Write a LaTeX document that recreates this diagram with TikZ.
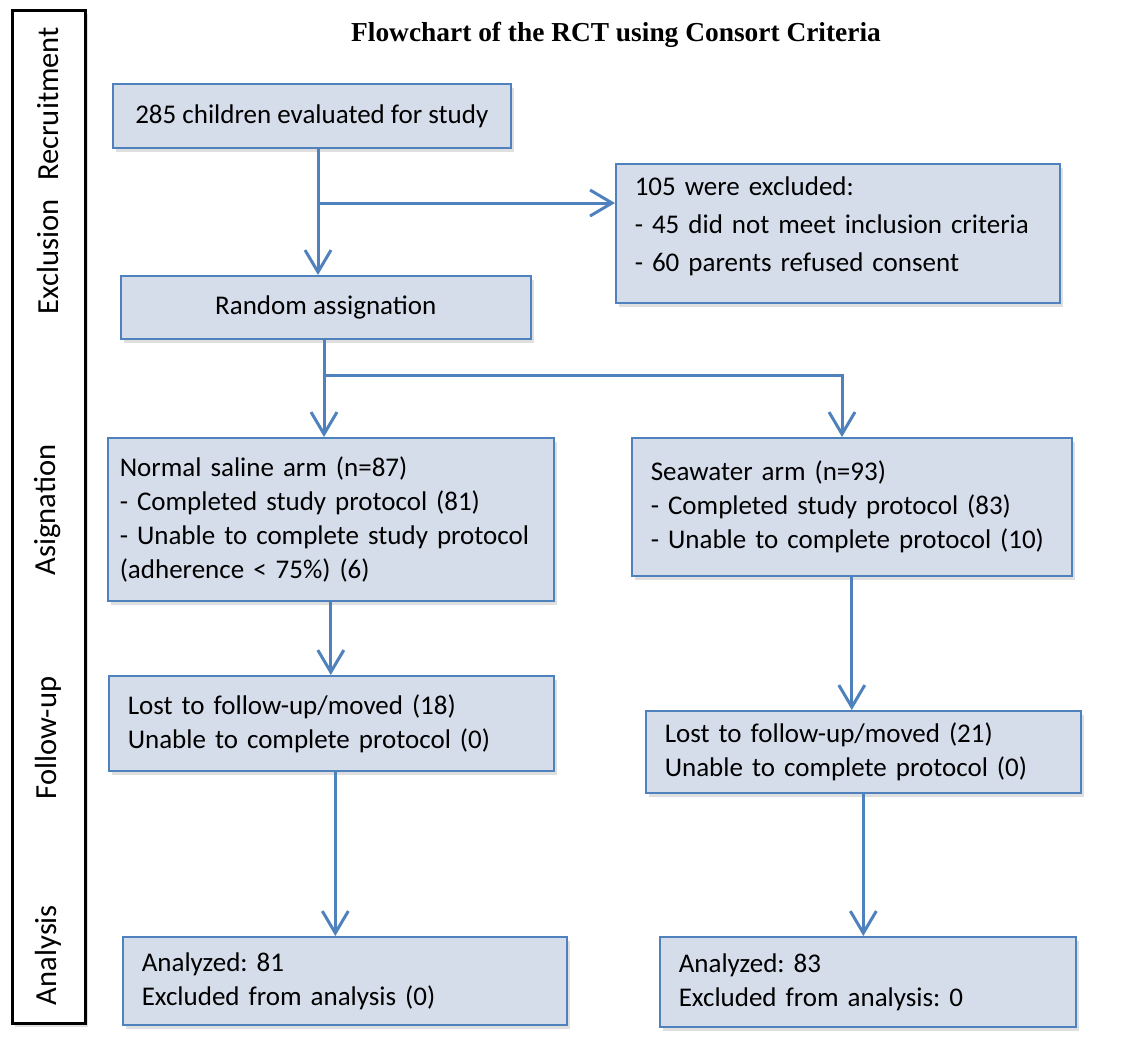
\documentclass[tikz,border=0pt]{standalone}
\usepackage{fontspec}
\setmainfont{Carlito}
\newfontfamily\titlefont{Liberation Serif}
\usetikzlibrary{arrows.meta,shadows}
\definecolor{boxline}{RGB}{79,129,189}
\definecolor{boxfill}{RGB}{213,221,234}
\frenchspacing

\begin{document}
\begin{tikzpicture}[x=0.5pt, y=-0.5pt,
  box/.style={draw=boxline, line width=0.8pt, fill=boxfill, anchor=north west,
    inner xsep=9.5pt, inner ysep=0pt, align=left,
    drop shadow={opacity=0.25, shadow xshift=1.5pt, shadow yshift=-2pt},
    font=\fontsize{13.5}{17}\selectfont},
  flow/.style={draw=boxline, line width=1.5pt, -{Straight Barb[length=11pt, width=13pt]}},
  phase/.style={rotate=90, font=\fontsize{15.3}{18}\selectfont}]
\useasboundingbox (0,0) rectangle (1135,1040);

% ---------- полоса этапов слева
\draw[line width=1.5pt, fill=white,
  drop shadow={opacity=0.25, shadow xshift=1.5pt, shadow yshift=-2pt}]
  (12,10) rectangle (85,1023);
\node[phase] (recr)  at (48,104) {Recruitment};
\node[phase] (exclp) at (48,257) {Exclusion};
\node[phase] (asgn)  at (48,510) {Asignation};
\node[phase] (follw) at (48,738) {Follow-up};
\node[phase] (anal)  at (48,955) {Analysis};

\node[font=\titlefont\bfseries\fontsize{13.7}{16}\selectfont] (title) at (616,35)
  {Flowchart of the RCT using Consort Criteria};

% ---------- блоки; левый верхний угол задан явно
\node[box, align=center, minimum width=199pt, minimum height=32pt] (top) at (112,83)
  {285 children evaluated for study};
\node[box, text width=203pt, minimum height=69.5pt, text depth=47pt,
  font=\fontsize{13.5}{19}\selectfont] (excl) at (615,163)
  {105 were excluded:\\- 45 did not meet inclusion criteria\\- 60 parents refused consent};
\node[box, align=center, minimum width=205pt, minimum height=31.5pt] (rand) at (120,275)
  {Random assignation};
\node[box, inner xsep=6pt, text width=211pt, minimum height=81.5pt] (nsal) at (107,437)
  {Normal saline arm (n=87)\\- Completed study protocol (81)\\- Unable to complete study protocol\\(adherence < 75\%) (6)};
\node[box, text width=201pt, minimum height=69pt] (sea) at (631,437)
  {Seawater arm (n=93)\\- Completed study protocol (83)\\- Unable to complete protocol (10)};
\node[box, text width=203.5pt, minimum height=47.5pt] (lostL) at (108,675)
  {Lost to follow-up/moved (18)\\Unable to complete protocol (0)};
\node[box, text width=198.5pt, minimum height=41pt] (lostR) at (645,710)
  {Lost to follow-up/moved (21)\\Unable to complete protocol (0)};
\node[box, text width=203pt, minimum height=44pt] (anaL) at (122,936)
  {Analyzed: 81\\Excluded from analysis (0)};
\node[box, text width=189pt, minimum height=45pt] (anaR) at (659,936)
  {Analyzed: 83\\Excluded from analysis: 0};

% ---------- стрелки
\coordinate (s1) at (318,203);
\coordinate (s2) at (324,375);
\coordinate (s3) at (842,375);
\draw[flow] (top.south -| s1) -- (rand.north -| s1);
\draw[flow] (s1) -- (excl.west |- s1);
\draw[flow] (rand.south -| s2) -- (nsal.north -| s2);
\draw[flow] (s2) -- (s3) -- (sea.north -| s3);
\draw[flow] (nsal.south) -- (nsal.south |- lostL.north);
\draw[flow] (sea.south) -- (sea.south |- lostR.north);
\draw[flow] ([xshift=2pt]lostL.south) -- ([xshift=2pt]lostL.south |- anaL.north);
\draw[flow] (lostR.south) -- (lostR.south |- anaR.north);
\end{tikzpicture}
\end{document}
